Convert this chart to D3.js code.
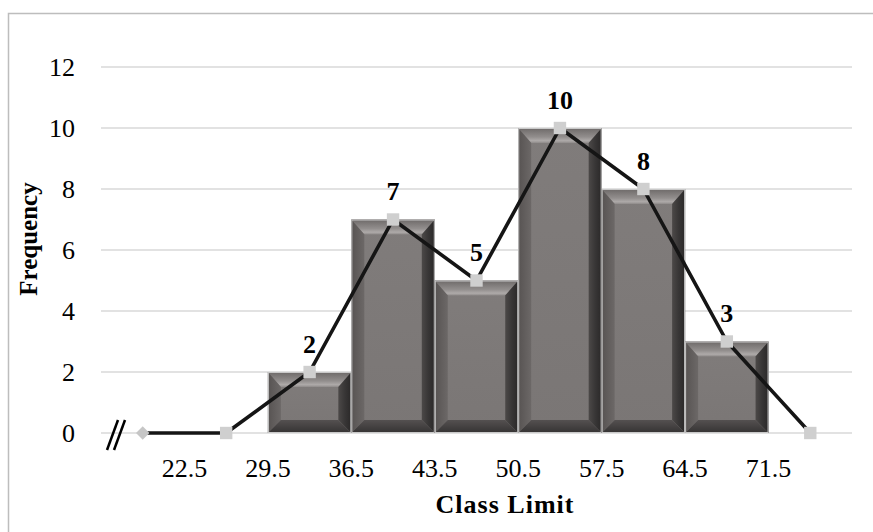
<!DOCTYPE html>
<html>
<head>
<meta charset="utf-8">
<script src="https://cdn.jsdelivr.net/npm/d3@7"></script>
<style>
  html, body { margin: 0; padding: 0; background: #fff; }
  svg { display: block; }
  text { font-family: "Liberation Serif", "Times New Roman", serif; fill: #000; }
</style>
</head>
<body>
<svg id="chart" width="873" height="532"></svg>
<script>
// ---- data ----
const midpoints   = [19, 26, 33, 40, 47, 54, 61, 68, 75];
const frequencies = [0, 0, 2, 7, 5, 10, 8, 3, 0];
const classLimits = ["22.5", "29.5", "36.5", "43.5", "50.5", "57.5", "64.5", "71.5"];
const yTicks      = [0, 2, 4, 6, 8, 10, 12];
const barMids     = [33, 40, 47, 54, 61, 68];
const barFreqs    = [2, 7, 5, 10, 8, 3];

const svg = d3.select("#chart");
const plot = { left: 101, right: 852, top: 67, bottom: 433 };

// chart border
svg.append("rect").attr("x", 8.5).attr("y", 13.5).attr("width", 1000).attr("height", 1000)
  .attr("fill", "#fff").attr("stroke", "#bdbdbd").attr("stroke-width", 1.5);

const x = d3.scaleBand().domain(midpoints).range([plot.left, plot.right]).padding(0);
const y = d3.scaleLinear().domain([0, 12]).range([plot.bottom, plot.top]);

// gradients
const defs = svg.append("defs");
function lin(id, x1, y1, x2, y2, stops) {
  const g = defs.append("linearGradient").attr("id", id)
    .attr("x1", x1).attr("y1", y1).attr("x2", x2).attr("y2", y2);
  stops.forEach(s => g.append("stop").attr("offset", s[0]).attr("stop-color", s[1]));
}
lin("face", 0, 0, 0, 1, [[0, "#807c7b"], [1, "#7a7675"]]);
lin("topB", 0, 0, 0, 1, [[0, "#6d6968"], [0.6, "#928e8d"], [0.85, "#aeaaa9"], [1, "#8e8a89"]]);
lin("leftB", 0, 0, 1, 0, [[0, "#575352"], [1, "#6c6867"]]);
lin("rightB", 0, 0, 1, 0, [[0, "#4c4948"], [0.5, "#383636"], [1, "#2a2828"]]);
lin("botB", 0, 0, 0, 1, [[0, "#545050"], [1, "#353333"]]);

// gridlines
svg.append("g").selectAll("line").data(yTicks).join("line")
  .attr("x1", plot.left).attr("x2", plot.right)
  .attr("y1", d => y(d)).attr("y2", d => y(d))
  .attr("stroke", "#d9d9d9").attr("stroke-width", 1.5);

// y tick labels
svg.append("g").selectAll("text").data(yTicks).join("text")
  .attr("x", 75).attr("y", d => y(d)).attr("dy", "0.34em")
  .attr("text-anchor", "end").attr("font-size", 26).text(d => d);

// bars with bevel
const bw = 13;
const bars = svg.append("g").selectAll("g").data(barMids.map((m, i) => ({ m, f: barFreqs[i] }))).join("g");
bars.each(function(d) {
  const g = d3.select(this);
  const x0 = x(d.m), x1 = x(d.m) + x.bandwidth();
  const y0 = y(d.f), y1 = y(0);
  const b = Math.min(bw, (y1 - y0) / 3);
  const bt = b + 2;
  g.append("rect").attr("x", x0).attr("y", y0).attr("width", x1 - x0).attr("height", y1 - y0)
    .attr("fill", "url(#face)");
  const poly = (pts, fill) => g.append("polygon").attr("points", pts.map(p => p.join(",")).join(" ")).attr("fill", fill);
  poly([[x0, y0], [x1, y0], [x1 - b, y0 + bt], [x0 + b, y0 + bt]], "url(#topB)");
  poly([[x0, y0], [x0 + b, y0 + bt], [x0 + b, y1 - b], [x0, y1]], "url(#leftB)");
  poly([[x1, y0], [x1, y1], [x1 - b, y1 - b], [x1 - b, y0 + bt]], "url(#rightB)");
  poly([[x0, y1], [x0 + b, y1 - b], [x1 - b, y1 - b], [x1, y1]], "url(#botB)");
  g.append("rect").attr("x", x0 + 0.5).attr("y", y0 + 0.5).attr("width", x1 - x0 - 1).attr("height", y1 - y0 - 1)
    .attr("fill", "none").attr("stroke", "#c9c9c9").attr("stroke-width", 1);
});

// x tick labels at class boundaries
svg.append("g").selectAll("text").data(classLimits).join("text")
  .attr("x", (d, i) => x(midpoints[i]) + x.bandwidth())
  .attr("y", 477).attr("text-anchor", "middle").attr("font-size", 26).text(d => d);

// axis break mark
svg.append("g").selectAll("line").data([0, 7]).join("line")
  .attr("x1", d => 107 + d).attr("y1", 450).attr("x2", d => 118 + d).attr("y2", 420)
  .attr("stroke", "#000").attr("stroke-width", 2.5);

// frequency polygon
const pts = midpoints.map((m, i) => [x(m) + x.bandwidth() / 2, y(frequencies[i])]);
svg.append("path").attr("d", d3.line()(pts)).attr("fill", "none")
  .attr("stroke", "#151515").attr("stroke-width", 3.6).attr("stroke-linejoin", "round");

// markers
svg.append("g").selectAll("path").data(pts).join("path")
  .attr("transform", d => `translate(${d[0]},${d[1]})`)
  .attr("d", (d, i) => i === 0 ? d3.symbol(d3.symbolDiamond2, 115)() : d3.symbol(d3.symbolSquare2, 196)())
  .attr("fill", (d, i) => i === 0 ? "#c6c6c6" : "#cfcfcf");

// data labels
svg.append("g").selectAll("text").data(midpoints.map((m, i) => ({ m, f: frequencies[i] })).filter(d => d.f > 0)).join("text")
  .attr("x", d => x(d.m) + x.bandwidth() / 2).attr("y", d => y(d.f) - 19.5)
  .attr("text-anchor", "middle").attr("font-size", 26).attr("font-weight", "bold").text(d => d.f);

// axis titles
svg.append("text").attr("transform", "translate(37,239) rotate(-90)")
  .attr("text-anchor", "middle").attr("font-size", 25).attr("font-weight", "bold").text("Frequency");
svg.append("text").attr("x", 505).attr("y", 513)
  .attr("text-anchor", "middle").attr("font-size", 26).attr("font-weight", "bold")
  .attr("letter-spacing", 1).text("Class Limit");
</script>
</body>
</html>
